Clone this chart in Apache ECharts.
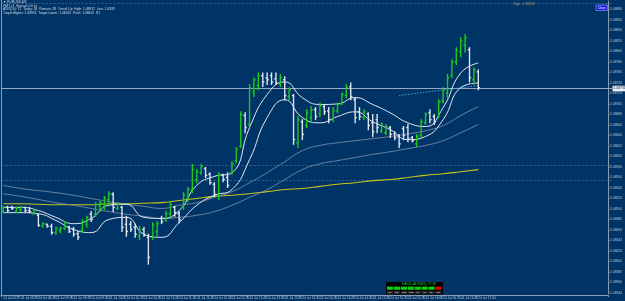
<!DOCTYPE html>
<html>
<head>
<meta charset="utf-8">
<script src="https://cdn.jsdelivr.net/npm/echarts@6/dist/echarts.min.js"></script>
<style>
  html, body { margin: 0; padding: 0; background: #013466; }
  #chart { width: 625px; height: 301px; }
</style>
</head>
<body>
<div id="chart"></div>
<script>
// x axis tick labels, one every 4 bars (M5)
const timeLabels = [
  '24 Jul 2023', '24 Jul 08:20', '24 Jul 08:40', '24 Jul 09:00', '24 Jul 09:20', '24 Jul 09:40', '24 Jul 10:00',
  '24 Jul 10:20', '24 Jul 10:40', '24 Jul 11:00', '24 Jul 11:20', '24 Jul 11:40', '24 Jul 12:00', '24 Jul 12:20',
  '24 Jul 12:40', '24 Jul 13:00', '24 Jul 13:20', '24 Jul 13:40', '24 Jul 14:00', '24 Jul 14:20', '24 Jul 14:40',
  '24 Jul 15:00', '24 Jul 15:20', '24 Jul 15:40', '24 Jul 16:00', '24 Jul 16:20', '24 Jul 16:40', '24 Jul 17:00',
];
const slotCount = 138; // bars + empty shift on the right

// bars: [open, close, low, high]
const bars = [
  [1.08495, 1.08503, 1.08493, 1.08505], [1.08503, 1.08497, 1.08495, 1.08505], [1.08503, 1.08501, 1.08499, 1.08505],
  [1.08495, 1.08501, 1.08493, 1.08503], [1.08499, 1.08503, 1.08495, 1.08505], [1.08503, 1.08497, 1.08495, 1.08503],
  [1.08497, 1.08495, 1.08493, 1.08503], [1.08491, 1.08497, 1.08490, 1.08499], [1.08488, 1.08469, 1.08467, 1.08490],
  [1.08467, 1.08472, 1.08465, 1.08474], [1.08471, 1.08467, 1.08465, 1.08471], [1.08467, 1.08455, 1.08452, 1.08471],
  [1.08455, 1.08463, 1.08452, 1.08465], [1.08459, 1.08463, 1.08455, 1.08465], [1.08463, 1.08474, 1.08461, 1.08476],
  [1.08465, 1.08457, 1.08455, 1.08467], [1.08461, 1.08452, 1.08448, 1.08465], [1.08453, 1.08446, 1.08442, 1.08457],
  [1.08459, 1.08476, 1.08455, 1.08480], [1.08471, 1.08484, 1.08465, 1.08486], [1.08490, 1.08480, 1.08476, 1.08495],
  [1.08490, 1.08509, 1.08486, 1.08512], [1.08505, 1.08512, 1.08495, 1.08514], [1.08509, 1.08520, 1.08499, 1.08524],
  [1.08518, 1.08529, 1.08509, 1.08533], [1.08528, 1.08503, 1.08495, 1.08531], [1.08501, 1.08509, 1.08499, 1.08512],
  [1.08503, 1.08465, 1.08457, 1.08505], [1.08471, 1.08457, 1.08448, 1.08486], [1.08471, 1.08461, 1.08457, 1.08476],
  [1.08465, 1.08452, 1.08446, 1.08471], [1.08448, 1.08461, 1.08442, 1.08467], [1.08461, 1.08450, 1.08448, 1.08465],
  [1.08446, 1.08408, 1.08395, 1.08452], [1.08446, 1.08469, 1.08442, 1.08474], [1.08457, 1.08472, 1.08446, 1.08476],
  [1.08482, 1.08476, 1.08472, 1.08486], [1.08480, 1.08491, 1.08476, 1.08495], [1.08491, 1.08509, 1.08486, 1.08514],
  [1.08503, 1.08493, 1.08486, 1.08505], [1.08491, 1.08480, 1.08474, 1.08495], [1.08503, 1.08526, 1.08499, 1.08531],
  [1.08520, 1.08537, 1.08514, 1.08541], [1.08537, 1.08575, 1.08531, 1.08585], [1.08556, 1.08571, 1.08550, 1.08575],
  [1.08569, 1.08581, 1.08566, 1.08585], [1.08577, 1.08564, 1.08560, 1.08579], [1.08566, 1.08550, 1.08547, 1.08569],
  [1.08547, 1.08528, 1.08524, 1.08550], [1.08526, 1.08564, 1.08518, 1.08569], [1.08564, 1.08556, 1.08552, 1.08566],
  [1.08560, 1.08545, 1.08541, 1.08569], [1.08569, 1.08586, 1.08566, 1.08590], [1.08592, 1.08613, 1.08588, 1.08617],
  [1.08619, 1.08680, 1.08617, 1.08685], [1.08678, 1.08655, 1.08645, 1.08683], [1.08661, 1.08731, 1.08657, 1.08737],
  [1.08723, 1.08746, 1.08714, 1.08750], [1.08735, 1.08754, 1.08727, 1.08759], [1.08754, 1.08742, 1.08733, 1.08759],
  [1.08750, 1.08746, 1.08737, 1.08759], [1.08754, 1.08742, 1.08737, 1.08759], [1.08748, 1.08740, 1.08737, 1.08759],
  [1.08738, 1.08750, 1.08733, 1.08756], [1.08746, 1.08716, 1.08708, 1.08752], [1.08714, 1.08727, 1.08708, 1.08731],
  [1.08716, 1.08632, 1.08623, 1.08718], [1.08626, 1.08670, 1.08617, 1.08676], [1.08666, 1.08642, 1.08632, 1.08670],
  [1.08659, 1.08683, 1.08655, 1.08689], [1.08674, 1.08689, 1.08664, 1.08695], [1.08689, 1.08676, 1.08670, 1.08693],
  [1.08681, 1.08697, 1.08676, 1.08702], [1.08695, 1.08685, 1.08680, 1.08699], [1.08687, 1.08670, 1.08664, 1.08693],
  [1.08670, 1.08687, 1.08666, 1.08693], [1.08687, 1.08699, 1.08683, 1.08702], [1.08700, 1.08718, 1.08699, 1.08721],
  [1.08716, 1.08731, 1.08712, 1.08737], [1.08733, 1.08714, 1.08708, 1.08740], [1.08708, 1.08674, 1.08664, 1.08712],
  [1.08685, 1.08676, 1.08670, 1.08693], [1.08674, 1.08685, 1.08670, 1.08689], [1.08681, 1.08659, 1.08651, 1.08683],
  [1.08664, 1.08647, 1.08638, 1.08680], [1.08670, 1.08655, 1.08645, 1.08680], [1.08649, 1.08661, 1.08645, 1.08664],
  [1.08645, 1.08657, 1.08642, 1.08661], [1.08655, 1.08642, 1.08636, 1.08657], [1.08643, 1.08636, 1.08632, 1.08647],
  [1.08638, 1.08624, 1.08617, 1.08642], [1.08653, 1.08640, 1.08632, 1.08657], [1.08655, 1.08634, 1.08628, 1.08661],
  [1.08636, 1.08630, 1.08628, 1.08638], [1.08624, 1.08638, 1.08619, 1.08642], [1.08640, 1.08666, 1.08636, 1.08670],
  [1.08664, 1.08680, 1.08661, 1.08683], [1.08683, 1.08670, 1.08664, 1.08689], [1.08676, 1.08666, 1.08661, 1.08680],
  [1.08676, 1.08704, 1.08674, 1.08708], [1.08706, 1.08727, 1.08702, 1.08731], [1.08721, 1.08750, 1.08712, 1.08756],
  [1.08754, 1.08780, 1.08750, 1.08784], [1.08780, 1.08803, 1.08775, 1.08807], [1.08799, 1.08820, 1.08790, 1.08826],
  [1.08812, 1.08826, 1.08799, 1.08832], [1.08803, 1.08750, 1.08742, 1.08807], [1.08746, 1.08765, 1.08737, 1.08769],
  [1.08761, 1.08731, 1.08727, 1.08765],
];

// indicator lines, read every 4th bar
const lineBars = [0, 4, 8, 12, 16, 20, 24, 28, 32, 36, 40, 44, 48, 52, 56, 60, 64, 68, 72, 76, 80, 84, 88, 92, 96, 100, 104, 108];
const upperWhite = [1.08503, 1.08503, 1.08497, 1.08484, 1.08472, 1.08482, 1.08507, 1.08509, 1.08484, 1.08482, 1.08497, 1.08545, 1.08562, 1.08569,
  1.08655, 1.08718, 1.08742, 1.08712, 1.08699, 1.08700, 1.08712, 1.08699, 1.08683, 1.08664, 1.08657, 1.08693, 1.08759, 1.08778];
const lowerWhite = [1.08493, 1.08493, 1.08491, 1.08478, 1.08461, 1.08455, 1.08480, 1.08484, 1.08452, 1.08446, 1.08474, 1.08507, 1.08526, 1.08537,
  1.08594, 1.08674, 1.08708, 1.08674, 1.08664, 1.08676, 1.08685, 1.08666, 1.08651, 1.08632, 1.08638, 1.08670, 1.08731, 1.08740];
const upperGray = [1.08545, 1.08539, 1.08535, 1.08531, 1.08526, 1.08520, 1.08514, 1.08509, 1.08505, 1.08501, 1.08507, 1.08512, 1.08522, 1.08533,
  1.08550, 1.08569, 1.08590, 1.08611, 1.08621, 1.08626, 1.08630, 1.08634, 1.08638, 1.08643, 1.08649, 1.08659, 1.08678, 1.08695];
const lowerGray = [1.08529, 1.08524, 1.08518, 1.08512, 1.08507, 1.08501, 1.08495, 1.08490, 1.08486, 1.08482, 1.08484, 1.08488, 1.08495, 1.08507,
  1.08522, 1.08537, 1.08556, 1.08575, 1.08586, 1.08592, 1.08598, 1.08604, 1.08609, 1.08615, 1.08621, 1.08630, 1.08645, 1.08661];
const yellowMA = [1.08510, 1.08510, 1.08509, 1.08508, 1.08508, 1.08508, 1.08510, 1.08510, 1.08511, 1.08512, 1.08516, 1.08520, 1.08524, 1.08526,
  1.08529, 1.08533, 1.08537, 1.08539, 1.08543, 1.08547, 1.08550, 1.08554, 1.08556, 1.08560, 1.08564, 1.08567, 1.08571, 1.08575];

const dashLevels = [1.08892, 1.08583, 1.08556];
const trendBars = [90, 108];
const trendPrices = [1.08716, 1.08735];

const panelTitle = 'MACD+ADX(M5): 71.38';
const panelFrames = ['M1', 'M5', 'M15', 'M30', 'H1', 'H4', 'D1', 'W1'];
const panelSignals = [1, 1, 1, 1, 1, 1, 1, -1];

const infoLines = [
  '\u25BC EURUSD,M5',
  'GMT+3  Spread: 0.6 pt',
  'ADR(20): 72  Today: 44  Remain: 28  Trend: Up  High: 1.08832  Low: 1.0839',
  'Target Higher: 1.08905  Target Lower: 1.08420  Pivot: 1.08602  R1',
];

const BG = '#013466';
const FRAME = '#8c9cb0';
const UP = '#1ec81e';
const DOWN = '#dfe4ee';
const TXT = '#b8c4d4';
const FONT = 'Liberation Sans';
const PLOT_LEFT = 1.5;
const PLOT_RIGHT = 612;

const categories = [];
for (let i = 0; i < slotCount; i++) {
  categories.push(i % 4 === 0 && timeLabels[i / 4] ? timeLabels[i / 4] : '');
}
const barData = bars.map((b, i) => [i, b[0], b[1], b[2], b[3]]);
const pairs = (vals) => vals.map((v, k) => [lineBars[k], v]);
const lastClose = bars[bars.length - 1][1];

function renderBar(params, api) {
  const i = api.value(0);
  const o = api.coord([i, api.value(1)]);
  const c = api.coord([i, api.value(2)]);
  const l = api.coord([i, api.value(3)]);
  const h = api.coord([i, api.value(4)]);
  const half = api.size([1, 0])[0] * 0.38;
  const color = api.value(2) >= api.value(1) ? UP : DOWN;
  const st = { stroke: color, lineWidth: 1.4 };
  return {
    type: 'group',
    children: [
      { type: 'line', shape: { x1: h[0], y1: h[1] - 0.5, x2: l[0], y2: l[1] + 0.5 }, style: st },
      { type: 'line', shape: { x1: o[0] - half, y1: o[1], x2: o[0], y2: o[1] }, style: st },
      { type: 'line', shape: { x1: c[0], y1: c[1], x2: c[0] + half, y2: c[1] }, style: st },
    ],
  };
}

const chart = echarts.init(document.getElementById('chart'));

const graphics = [
  { type: 'line', shape: { x1: PLOT_LEFT, y1: 0, x2: PLOT_LEFT, y2: 295 }, style: { stroke: FRAME, lineWidth: 1 } },
];
infoLines.forEach((t, k) => {
  graphics.push({
    type: 'text', left: 3, top: 1 + k * 3.4,
    style: { text: t, fill: '#d0d8e4', font: '3.3px "' + FONT + '"' },
  });
});
graphics.push({
  type: 'text', left: 513, top: 2.5,
  style: { text: 'High: 1.08832', fill: '#b89a4a', font: '3.5px "' + FONT + '"' },
});
graphics.push({
  type: 'rect', shape: { x: 596, y: 5, width: 11.5, height: 5.5 },
  style: { fill: '#1a1ae6', stroke: '#90a8ff', lineWidth: 0.6 },
});
graphics.push({
  type: 'text', left: 598, top: 6.2,
  style: { text: 'Close', fill: '#ffffff', font: '3px "' + FONT + '"' },
});
// signal panel
graphics.push({ type: 'rect', shape: { x: 386, y: 282, width: 57, height: 12.5 }, style: { fill: '#000000' } });
graphics.push({
  type: 'text', left: 402, top: 282.6,
  style: { text: panelTitle, fill: '#22cc22', font: '3.2px "' + FONT + '"' },
});
panelFrames.forEach((f, k) => {
  const x = 387 + k * 6.9;
  graphics.push({
    type: 'rect', shape: { x: x, y: 286.6, width: 6.2, height: 3.2 },
    style: { fill: panelSignals[k] > 0 ? '#10d010' : '#e00000' },
  });
  graphics.push({
    type: 'rect', shape: { x: x, y: 291, width: 6.2, height: 2.8 },
    style: { fill: '#2a2a2a' },
  });
  graphics.push({
    type: 'text', left: x + 1.2, top: 291.2,
    style: { text: f, fill: '#e0e0e0', font: '2.4px "' + FONT + '"' },
  });
});

chart.setOption({
  backgroundColor: BG,
  animation: false,
  grid: { left: 1, right: 13, top: 1, bottom: 8 },
  xAxis: {
    type: 'category',
    data: categories,
    boundaryGap: true,
    offset: 2,
    axisLine: { show: true, lineStyle: { color: FRAME, width: 1 } },
    axisTick: { show: true, length: 2, interval: (i) => i % 4 === 0 && i <= 108, lineStyle: { color: FRAME } },
    axisLabel: {
      interval: (i) => i % 4 === 0 && i <= 108,
      align: 'left', margin: 1.5, fontSize: 3.2, color: TXT, fontFamily: FONT,
    },
    splitLine: { show: false },
  },
  yAxis: {
    type: 'value',
    position: 'right',
    min: 1.0834,
    max: 1.08896,
    interval: 0.0002,
    scale: true,
    axisLine: { show: true, lineStyle: { color: FRAME, width: 1 } },
    axisTick: { show: true, length: 1.5, lineStyle: { color: FRAME } },
    axisLabel: {
      margin: 2, fontSize: 3.3, color: TXT, fontFamily: FONT, showMaxLabel: false,
      formatter: (v) => v.toFixed(5),
    },
    splitLine: { show: false },
  },
  graphic: graphics,
  series: [
    {
      name: 'yellow', type: 'line', data: pairs(yellowMA), smooth: true, symbol: 'none',
      lineStyle: { color: '#c8c41c', width: 1.1 },
    },
    {
      name: 'upperGray', type: 'line', data: pairs(upperGray), smooth: true, symbol: 'none',
      lineStyle: { color: '#8796ad', width: 0.8 },
    },
    {
      name: 'lowerGray', type: 'line', data: pairs(lowerGray), smooth: true, symbol: 'none',
      lineStyle: { color: '#8796ad', width: 0.8 },
    },
    {
      name: 'upperWhite', type: 'line', data: pairs(upperWhite), smooth: true, symbol: 'none',
      lineStyle: { color: '#e4e9f2', width: 1 },
    },
    {
      name: 'lowerWhite', type: 'line', data: pairs(lowerWhite), smooth: true, symbol: 'none',
      lineStyle: { color: '#e4e9f2', width: 1 },
    },
    {
      name: 'trend', type: 'line', data: trendBars.map((b, k) => [b, trendPrices[k]]), symbol: 'none',
      lineStyle: { color: '#3cb4d8', width: 0.9, type: [1.5, 1.5] },
    },
    {
      name: 'bars', type: 'custom', renderItem: renderBar, data: barData,
      encode: { x: 0, y: [1, 2, 3, 4] }, z: 5,
    },
  ],
});

// horizontal price levels placed through the y scale
const levelGraphics = dashLevels.map((v) => {
  const y = Math.round(chart.convertToPixel({ yAxisIndex: 0 }, v)) + 0.5;
  return {
    type: 'line', silent: true, z: 1,
    shape: { x1: PLOT_LEFT, y1: y, x2: PLOT_RIGHT, y2: y },
    style: { stroke: '#4a7ea8', lineWidth: 0.7, lineDash: [2, 2] },
  };
});
const yPrice = Math.round(chart.convertToPixel({ yAxisIndex: 0 }, lastClose)) + 0.5;
levelGraphics.push({
  type: 'line', silent: true, z: 1,
  shape: { x1: PLOT_LEFT, y1: yPrice, x2: PLOT_RIGHT, y2: yPrice },
  style: { stroke: '#a9b7c9', lineWidth: 0.9 },
});
levelGraphics.push({
  type: 'rect', silent: true, z: 10,
  shape: { x: 612.5, y: yPrice - 2.8, width: 12.5, height: 5.6 },
  style: { fill: '#e8edf4' },
});
levelGraphics.push({
  type: 'text', silent: true, z: 11, x: 613.5, y: yPrice - 1.9,
  style: { text: lastClose.toFixed(5), fill: '#012a55', font: '3.4px "' + FONT + '"' },
});
chart.setOption({ graphic: graphics.concat(levelGraphics) });
</script>
</body>
</html>
